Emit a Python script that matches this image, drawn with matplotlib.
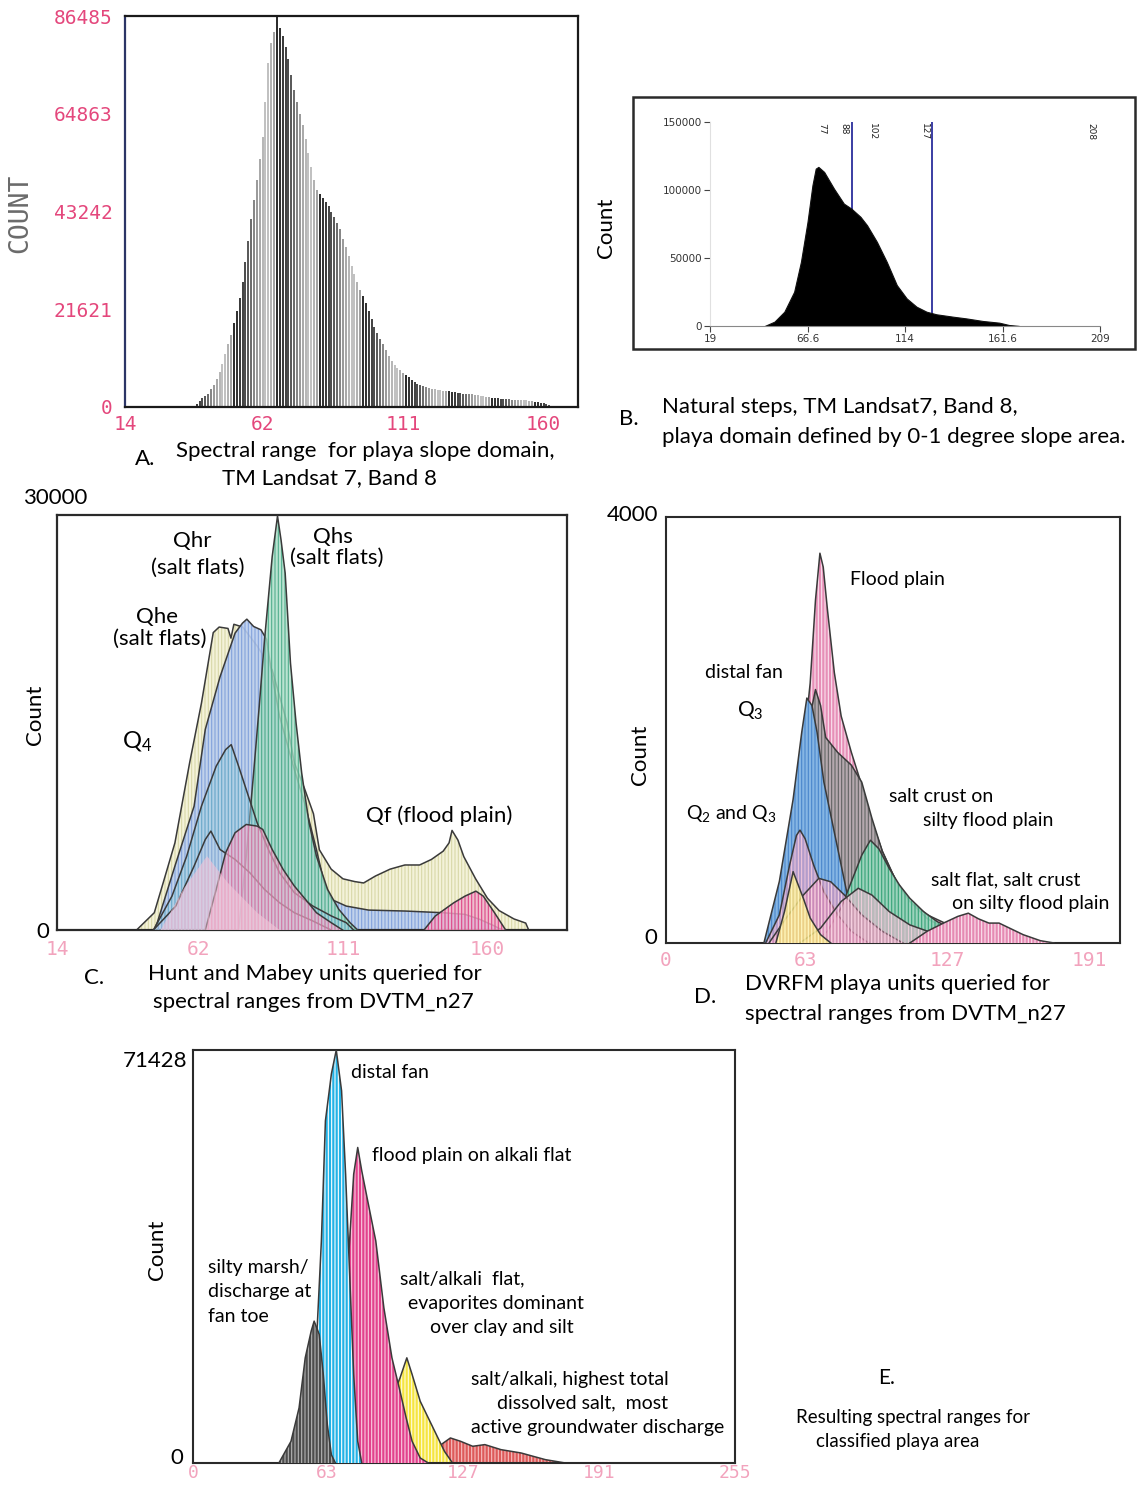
import numpy as np
import matplotlib
matplotlib.use("Agg")
import matplotlib.pyplot as plt
from matplotlib.patches import Rectangle

plt.rcParams['font.family'] = ['Lato', 'DejaVu Sans']
plt.rcParams['mathtext.fontset'] = 'custom'
plt.rcParams['mathtext.rm'] = 'Lato'
plt.rcParams['mathtext.it'] = 'Lato:italic'
plt.rcParams['hatch.linewidth'] = 0.8

# ------------------------------------------------------------------ data
# Panel A : histogram, one bar per DN
a_dn = list(range(38, 166))
a_counts = [259, 692, 1297, 1903, 2422, 2940, 3892, 4843, 6227, 7784,
            9513, 11675, 13838, 16000, 18594, 21189, 24216, 27675, 32000, 36756,
            41513, 45837, 50161, 54918, 59675, 67458, 76107, 80431, 83026, 86485,
            83890, 82161, 79566, 76972, 73512, 70053, 67458, 64864, 62269, 59242,
            56215, 53188, 50161, 48000, 47134, 46269, 45405, 44540, 43242, 41945,
            40648, 39351, 37189, 35459, 33297, 31135, 29405, 27675, 25946, 24648,
            22919, 21189, 19459, 17729, 16432, 15135, 13838, 12540, 11243, 10205,
            9340, 8649, 8130, 7611, 7092, 6573, 6054, 5535, 5189, 4843,
            4584, 4324, 4151, 3978, 3892, 3805, 3719, 3632, 3546, 3459,
            3373, 3286, 3113, 3027, 2940, 2854, 2854, 2768, 2681, 2595,
            2508, 2422, 2249, 2162, 2076, 1989, 1903, 1816, 1816, 1730,
            1730, 1643, 1643, 1643, 1557, 1557, 1470, 1384, 1297, 1211,
            1038, 865, 778, 605, 432, 303, 173, 86]
a_yticks = [0, 21621, 43242, 64863, 86485]
a_xticks = [14, 62, 111, 160]

# Panel B : natural-steps histogram
b_dn = [45.6, 50.4, 55.2, 60.0, 63.3, 66.5, 68.9, 70.5, 71.8, 74.6, 79.4, 84.2,
        87.8, 92.3, 95.5, 100.3, 105.1, 110.0, 114.8, 119.6, 124.5, 129.3,
        137.4, 143.8, 151.9, 159.9, 164.7, 169.6]
b_counts = [0, 3200, 10500, 25200, 47200, 76600, 103500, 115700, 117000, 113300,
            101000, 90000, 86400, 80300, 74100, 61900, 47200, 30100, 20300, 14200,
            10500, 8600, 6850, 5600, 3700, 2450, 730, 0]
b_breaks = [77, 88, 102, 127, 208]
b_drawn_breaks = [88, 127]
b_yticks = [0, 50000, 100000, 150000]
b_xticks = [19, 66.6, 114, 161.6, 209]
b_xticklabels = ['19', '66.6', '114', '161.6', '209']

# Panel C : Hunt and Mabey units
c_qhe_x = [41, 47, 50, 54, 59, 63, 67, 69, 72, 73, 74, 77, 82, 87, 92, 94.5, 98, 101,
           103, 107, 111, 115, 118, 122, 127, 132, 137, 141, 145, 147, 148, 150, 152,
           156, 160, 164, 169, 173, 174]
c_qhe_y = [0, 1250, 3400, 6300, 12100, 16400, 21500, 21900, 21800, 21100, 22100, 21900,
           20500, 18800, 15000, 12100, 10200, 8400, 5800, 4400, 3700, 3500, 3400, 3900,
           4400, 4700, 4700, 5100, 5700, 6300, 7200, 6500, 5300, 3700, 2300, 1400, 800,
           500, 0]
c_qhr_x = [47, 48, 54, 60.5, 64.3, 69.3, 74.4, 76.9, 78.4, 80.7, 83.2, 85.1, 87, 89.5,
           92, 94.5, 98.3, 102, 104.6, 107.1, 112.1, 119.7, 132.2, 144.8, 152.4, 157.4,
           162.4, 165]
c_qhr_y = [0, 530, 4620, 8950, 14500, 18300, 21460, 22180, 22470, 21940, 21700, 21000,
           18330, 15450, 13520, 11600, 8950, 5820, 3420, 2210, 1730, 1440, 1370, 1250,
           1130, 770, 290, 0]
c_qhs_x = [75.6, 78.2, 80.7, 82.6, 84.4, 87, 88.8, 90, 91.4, 93.2, 95.1, 97, 99.5, 102,
           105.8, 109.6, 113.4, 116]
c_qhs_y = [0, 5340, 11360, 16170, 21000, 27000, 29930, 28200, 25800, 19300, 14960,
           11360, 7750, 5340, 2930, 1490, 530, 0]
c_q4_x = [46.7, 53, 58, 63, 68, 71.2, 73.1, 75.6, 78.2, 81.9, 85.7, 89.5, 94.5, 100.8,
          107.1, 112.1, 114.6]
c_q4_y = [0, 2450, 5340, 8950, 11840, 13040, 13400, 11840, 10150, 7750, 5820, 4140,
          2700, 1730, 1010, 530, 0]
c_u5_x = [46.7, 54.3, 60.5, 64.3, 66.2, 69.3, 74.4, 79.4, 84.4, 89.5, 94.5, 100.8, 107]
c_u5_y = [0, 1730, 4620, 6540, 7150, 5820, 5100, 4140, 2930, 1970, 1250, 650, 0]
c_u6_x = [64.3, 68, 71.2, 74.4, 78.2, 81.9, 83.8, 87, 90.7, 94.5, 98.3, 102, 107, 110.9]
c_u6_y = [0, 2930, 5580, 7030, 7630, 7510, 7270, 5820, 4380, 3180, 2210, 1250, 530, 0]
c_u7_x = [49.2, 56.8, 64.9, 71.9, 81.9, 89.5]
c_u7_y = [0, 2930, 5340, 3420, 1250, 0]
c_qf_x = [138.5, 142.3, 148.6, 152.4, 156.1, 158.6, 162.4, 166.2]
c_qf_y = [0, 1010, 1970, 2450, 2810, 2450, 1250, 0]
c_xticks = [14, 62, 111, 160]

# Panel D : DVRFM playa units
d_fp_x = [45, 51.2, 57.4, 62, 65.1, 67.5, 69.5, 71, 72.9, 76, 79.1, 83.7, 88.4, 93, 97.7,
          103.9, 110.1, 117.9, 125.6, 133.4, 141.1, 148.9, 156.6]
d_fp_y = [0, 420, 1200, 1820, 2440, 3220, 3660, 3530, 3130, 2540, 2130, 1790, 1480, 1140,
          860, 580, 390, 265, 190, 125, 78, 40, 0]
d_df_x = [45, 52.7, 58.9, 63.6, 67.5, 69.8, 72.1, 77.5, 83.7, 88.4, 93, 97.7, 103.9,
          110.1, 117.9, 125.6, 141.1, 148.9]
d_df_y = [0, 580, 1350, 1980, 2380, 2230, 1930, 1790, 1670, 1510, 1170, 860, 580, 390,
          230, 140, 47, 0]
d_q3_x = [44.2, 51.2, 57.4, 61.3, 63.6, 65.9, 68.2, 71.3, 74.4, 77.5, 80.6, 83.7, 86.1]
d_q3_y = [0, 580, 1350, 1980, 2300, 2230, 1980, 1510, 1200, 890, 580, 265, 0]
d_sc_x = [66.7, 72.9, 79.1, 83.7, 88.4, 92.3, 96.1, 100.8, 105.4, 110.1, 116.3, 122.5,
          130.3, 141.1, 148.9]
d_sc_y = [0, 110, 330, 575, 825, 965, 885, 700, 545, 420, 295, 200, 125, 47, 0]
d_q23_x = [45, 51.2, 55.8, 58.9, 60.5, 62.8, 66.7, 71.3, 77.5, 83.7, 91.5]
d_q23_y = [0, 265, 730, 1010, 1060, 980, 730, 480, 265, 110, 0]
d_u6_x = [46.5, 54.3, 62, 69, 74.4, 80.6, 88.4, 97.7, 107]
d_u6_y = [0, 235, 450, 607, 575, 450, 265, 110, 0]
d_u7_x = [60.5, 69.8, 79.1, 86.8, 93, 100.8, 110.1, 122.5, 138, 156.6]
d_u7_y = [0, 140, 390, 514, 450, 295, 170, 78, 16, 0]
d_y_x = [49.6, 53.5, 57.4, 59.7, 62, 65.1, 69.8, 74.4]
d_y_y = [0, 295, 670, 545, 420, 235, 78, 0]
d_sf_x = [110.1, 117.9, 125.6, 131.8, 136.5, 141.1, 145.8, 150.4, 155.1, 161.3, 169, 175.2]
d_sf_y = [0, 110, 190, 250, 280, 227, 187, 187, 140, 78, 22, 0]
d_xticks = [0, 63, 127, 191]

# Panel E : classified playa area
e_sm_x = [40.4, 46.1, 49.9, 52.8, 55.6, 57, 59.4, 61.3, 63.2, 65.1, 67]
e_sm_y = [0, 3750, 9530, 18190, 22810, 24540, 22230, 15300, 6640, 1440, 0]
e_df_x = [44.2, 49.9, 55.6, 58.5, 60.4, 62.3, 65.1, 67.4, 69.9, 71.8, 73.7, 75.6, 77.5, 79.4]
e_df_y = [0, 3750, 12410, 23960, 38400, 59180, 67270, 71428, 64380, 49950, 32620, 15300,
          3750, 0]
e_fp_x = [49.9, 55.6, 63.2, 68.9, 72.7, 75.6, 77.5, 79.4, 82.2, 86, 89.8, 93.6, 97.4,
          100.3, 103.1, 106.9, 110.7]
e_fp_y = [0, 1730, 6640, 15300, 32620, 49950, 54570, 50520, 45330, 38400, 26850, 18190,
          12410, 7790, 3750, 870, 0]
e_ev_x = [59.4, 68.9, 78.4, 87.9, 93.6, 97.4, 100.6, 103.1, 106.9, 110.7, 114.5, 118.3, 122.1]
e_ev_y = [0, 1440, 3750, 7790, 11260, 14720, 18190, 15300, 10680, 7790, 4910, 2020, 0]
e_hs_x = [80.3, 97.4, 106.9, 114.5, 121.1, 125.9, 131.6, 137.3, 144.9, 154.4, 160.1,
          165.8, 175.2]
e_hs_y = [0, 870, 1440, 2600, 4330, 3750, 2890, 3180, 2310, 1730, 1150, 580, 0]
e_xticks = [0, 63, 127, 191, 255]

# ------------------------------------------------------------------ figure
W, H = 1141, 1485
fig = plt.figure(figsize=(W / 100, H / 100), dpi=100)


def ax_px(x0, y0, x1, y1):
    return fig.add_axes([x0 / W, 1 - y1 / H, (x1 - x0) / W, (y1 - y0) / H])


def ftext(x, y, s, **kw):
    kw.setdefault('ha', 'center')
    kw.setdefault('va', 'center')
    return fig.text(x / W, 1 - y / H, s, **kw)


def box(ax, color='#222222', lw=1.5):
    for sp in ax.spines.values():
        sp.set_color(color)
        sp.set_linewidth(lw)


def striped(ax, x, y, base, stripe, edge='#3a3a3a', alpha=1.0, hatch='|||||', z=1,
            lw=1.1, salpha=1.0):
    ax.fill_between(x, 0, y, facecolor=base, edgecolor='none', alpha=alpha, zorder=z)
    ax.fill_between(x, 0, y, facecolor='none', edgecolor=stripe, hatch=hatch,
                    linewidth=0, alpha=salpha, zorder=z + 0.1)
    if edge:
        ax.plot(x, y, color=edge, lw=lw, zorder=z + 0.2)


PINK = '#e4477c'
LPINK = '#f2a3bd'
MONO = 'DejaVu Sans Mono'
CAP = 16
LAB = 16

# ---------------- Panel A
axA = ax_px(125, 16, 578, 407)
light = [0.46, 0.55, 0.62, 0.68, 0.72, 0.72, 0.66, 0.58]
dark = [0.06, 0.08, 0.12, 0.16, 0.2, 0.26, 0.34]
shades = []
for v in a_dn:
    k = (v - 67) % 15
    g = dark[k] if k < 7 else light[k - 7]
    shades.append((g, g, g))
axA.vlines(a_dn, 0, a_counts, colors=shades, linewidth=1.25)
axA.set_xlim(14, 172)
axA.set_ylim(0, 86485)
axA.set_yticks(a_yticks)
axA.set_yticklabels([str(t) for t in a_yticks])
axA.set_xticks(a_xticks)
axA.set_xticklabels([str(t) for t in a_xticks])
axA.tick_params(axis='y', length=0, labelcolor=PINK, labelsize=14, pad=9)
axA.tick_params(axis='x', length=0, labelcolor=PINK, labelsize=14, pad=6)
for lab in axA.get_xticklabels() + axA.get_yticklabels():
    lab.set_family(MONO)
box(axA, '#1a1a1a', 1.6)
axA.spines['left'].set_color('#2c3566')
ftext(20, 213, 'COUNT', rotation=90, family=MONO, fontsize=19, color='#6a6a6a')
ftext(145, 459, 'A.', fontsize=CAP)
ftext(365, 451, 'Spectral range  for playa slope domain,', fontsize=CAP)
ftext(330, 478, 'TM Landsat 7, Band 8', fontsize=CAP)

# ---------------- Panel B
fig.add_artist(Rectangle((633 / W, 1 - 349 / H), (1135 - 633) / W, (349 - 97) / H,
                         transform=fig.transFigure, fill=False, lw=1.8,
                         edgecolor='#2a2a2a'))
axB = ax_px(710, 122, 1100, 326)
for xb in b_drawn_breaks:
    axB.vlines(xb, 0, 150000, colors='#2b2e9c', linewidth=1.3, zorder=1)
axB.fill_between(b_dn, 0, b_counts, facecolor='black', edgecolor='#111111', lw=0.8,
                 zorder=2)
for xb in b_breaks:
    axB.text(xb - 1.5, 149000, str(xb), rotation=270, ha='right', va='top',
             fontsize=6.5, color='#222222', family='DejaVu Sans')
axB.set_xlim(19, 209)
axB.set_ylim(0, 150000)
axB.set_yticks(b_yticks)
axB.set_yticklabels([str(t) for t in b_yticks])
axB.set_xticks(b_xticks)
axB.set_xticklabels(b_xticklabels)
axB.tick_params(length=4, width=0.8, color='#444444', labelsize=7.5,
                labelcolor='#333333', pad=2)
for lab in axB.get_xticklabels() + axB.get_yticklabels():
    lab.set_family('DejaVu Sans')
axB.spines['top'].set_visible(False)
axB.spines['right'].set_visible(False)
axB.spines['bottom'].set_color('#888888')
axB.spines['left'].set_color('#e0e0e0')
axB.patch.set_alpha(0)
ftext(606, 228, 'Count', rotation=90, fontsize=LAB)
ftext(629, 419, 'B.', fontsize=CAP)
ftext(662, 407, 'Natural steps, TM Landsat7, Band 8,', ha='left', fontsize=CAP)
ftext(662, 437, 'playa domain defined by 0-1 degree slope area.', ha='left', fontsize=CAP)

# ---------------- Panel C
axC = ax_px(57, 515, 567, 930)
striped(axC, c_qhe_x, c_qhe_y, '#f4f2d9', '#d9d8a8', z=1)
striped(axC, c_qhr_x, c_qhr_y, '#bccfee', '#7d9edb', alpha=0.9, z=2, salpha=0.9)
striped(axC, c_qhs_x, c_qhs_y, '#a9dcc6', '#47a987', alpha=0.8, z=3, salpha=0.9)
striped(axC, c_q4_x, c_q4_y, '#9fcfe0', '#5aa4c0', alpha=0.45, z=4, salpha=0.6)
striped(axC, c_u5_x, c_u5_y, '#c4d2ee', '#8da4d8', alpha=0.35, z=5, salpha=0.5)
striped(axC, c_u6_x, c_u6_y, '#ebb6cf', '#d86a9c', alpha=0.65, z=6, salpha=0.8)
striped(axC, c_u7_x, c_u7_y, '#f6c9dc', '#f2b4cc', edge=None, alpha=0.5, z=6.5,
        salpha=0.5)
striped(axC, c_qf_x, c_qf_y, '#eeb2cc', '#e0488a', alpha=0.8, z=7)
axC.set_xlim(14, 187)
axC.set_ylim(0, 30000)
axC.set_yticks([])
axC.set_xticks(c_xticks)
axC.set_xticklabels([str(t) for t in c_xticks])
axC.tick_params(length=0, labelcolor=LPINK, labelsize=14, pad=7)
for lab in axC.get_xticklabels():
    lab.set_family(MONO)
box(axC, '#2a2a2a', 1.6)
ftext(55, 498, '30000', fontsize=LAB)
ftext(43, 932, '0', fontsize=LAB)
ftext(35, 715, 'Count', rotation=90, fontsize=LAB)
ftext(192, 541, 'Qhr', fontsize=16)
ftext(198, 568, '(salt flats)', fontsize=16)
ftext(333, 537, 'Qhs', fontsize=16)
ftext(337, 558, '(salt flats)', fontsize=16)
ftext(157, 617, 'Qhe', fontsize=16)
ftext(160, 639, '(salt flats)', fontsize=16)
ftext(137, 742, r'$\mathregular{Q_4}$', fontsize=17)
ftext(439, 816, 'Qf (flood plain)', fontsize=16)
ftext(94, 978, 'C.', fontsize=CAP)
ftext(148, 974, 'Hunt and Mabey units queried for', ha='left', fontsize=CAP)
ftext(153, 1002, 'spectral ranges from DVTM_n27', ha='left', fontsize=CAP)

# ---------------- Panel D
axD = ax_px(666, 517, 1120, 943)
striped(axD, d_fp_x, d_fp_y, '#e68fb7', '#fbe3ee', z=1)
striped(axD, d_df_x, d_df_y, '#adadad', '#626262', alpha=0.85, z=2)
striped(axD, d_q3_x, d_q3_y, '#86b6e4', '#4a86cc', z=3)
striped(axD, d_sc_x, d_sc_y, '#98dbbf', '#3aa67c', alpha=0.85, z=4)
striped(axD, d_q23_x, d_q23_y, '#d88ab8', '#f4c9dd', alpha=0.55, z=5)
striped(axD, d_u6_x, d_u6_y, '#e27aa8', '#f7d3e2', alpha=0.5, z=6)
striped(axD, d_u7_x, d_u7_y, '#e695bb', '#f7d3e2', alpha=0.4, z=7)
striped(axD, d_y_x, d_y_y, '#f4e27c', '#fff6c0', alpha=0.8, z=8)
striped(axD, d_sf_x, d_sf_y, '#e58ab3', '#fbe3ee', z=9)
axD.set_xlim(0, 205)
axD.set_ylim(0, 4000)
axD.set_yticks([])
axD.set_xticks(d_xticks)
axD.set_xticklabels([str(t) for t in d_xticks])
axD.tick_params(length=0, labelcolor=LPINK, labelsize=14, pad=6)
for lab in axD.get_xticklabels():
    lab.set_family(MONO)
box(axD, '#2a2a2a', 1.5)
ftext(633, 515, '4000', fontsize=LAB)
ftext(651, 938, '0', fontsize=LAB)
ftext(640, 755, 'Count', rotation=90, fontsize=LAB)
ftext(897, 580, 'Flood plain', fontsize=14)
ftext(744, 672, 'distal fan', fontsize=14)
ftext(750, 711, r'$\mathregular{Q_3}$', fontsize=15)
ftext(731, 813, r'$\mathregular{Q_2}$ and $\mathregular{Q_3}$', fontsize=14)
ftext(941, 796, 'salt crust on', fontsize=14)
ftext(988, 820, 'silty flood plain', fontsize=14)
ftext(1006, 880, 'salt flat, salt crust', fontsize=14)
ftext(1031, 904, 'on silty flood plain', fontsize=14)
ftext(705, 997, 'D.', fontsize=CAP)
ftext(745, 984, 'DVRFM playa units queried for', ha='left', fontsize=CAP)
ftext(745, 1014, 'spectral ranges from DVTM_n27', ha='left', fontsize=CAP)

# ---------------- Panel E
axE = ax_px(193, 1050, 735, 1463)
striped(axE, e_hs_x, e_hs_y, '#dd5a5a', '#f6c0c0', z=1)
striped(axE, e_ev_x, e_ev_y, '#f5e540', '#fffbe0', z=2)
striped(axE, e_fp_x, e_fp_y, '#e2428d', '#f9cde0', z=3)
striped(axE, e_df_x, e_df_y, '#22b2e6', '#ffffff', z=4)
striped(axE, e_sm_x, e_sm_y, '#4d4d4d', '#b5b5b5', z=5)
axE.set_xlim(0, 255)
axE.set_ylim(0, 71428)
axE.set_yticks([])
axE.set_xticks(e_xticks)
axE.set_xticklabels([str(t) for t in e_xticks])
axE.tick_params(length=0, labelcolor=LPINK, labelsize=13, pad=1)
for lab in axE.get_xticklabels():
    lab.set_family(MONO)
box(axE, '#2a2a2a', 1.5)
ftext(155, 1061, '71428', fontsize=LAB)
ftext(177, 1458, '0', fontsize=LAB)
ftext(157, 1250, 'Count', rotation=90, fontsize=LAB)
ftext(390, 1072, 'distal fan', fontsize=14)
ftext(472, 1156, 'flood plain on alkali flat', fontsize=14)
ftext(208, 1268, 'silty marsh/', ha='left', fontsize=14)
ftext(208, 1292, 'discharge at', ha='left', fontsize=14)
ftext(208, 1316, 'fan toe', ha='left', fontsize=14)
ftext(400, 1279, 'salt/alkali  flat,', ha='left', fontsize=14)
ftext(408, 1303, 'evaporites dominant', ha='left', fontsize=14)
ftext(430, 1327, 'over clay and silt', ha='left', fontsize=14)
ftext(471, 1379, 'salt/alkali, highest total', ha='left', fontsize=14)
ftext(497, 1403, 'dissolved salt,  most', ha='left', fontsize=14)
ftext(471, 1427, 'active groundwater discharge', ha='left', fontsize=14)
ftext(887, 1378, 'E.', fontsize=15)
ftext(913, 1417, 'Resulting spectral ranges for', fontsize=13.5)
ftext(898, 1441, 'classified playa area', fontsize=13.5)

fig.savefig('out.png', dpi=100)
